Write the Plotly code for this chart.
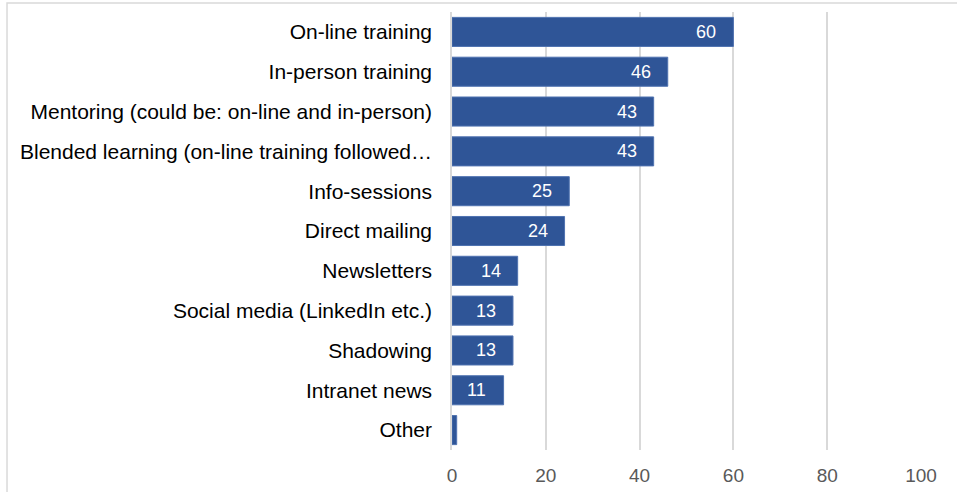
import plotly.graph_objects as go

categories = [
    "On-line training",
    "In-person training",
    "Mentoring (could be: on-line and in-person)",
    "Blended learning (on-line training followed…",
    "Info-sessions",
    "Direct mailing",
    "Newsletters",
    "Social media (LinkedIn etc.)",
    "Shadowing",
    "Intranet news",
    "Other",
]
values = [60, 46, 43, 43, 25, 24, 14, 13, 13, 11, 1]
x_ticks = [0, 20, 40, 60, 80, 100]

BAR = "#2F5597"
FONT = "Liberation Sans, Arial, sans-serif"

fig = go.Figure(
    go.Bar(
        x=values,
        y=categories,
        orientation="h",
        marker=dict(color=BAR, line=dict(color="#4F72B0", width=1)),
        width=0.73,
        hoverinfo="x+y",
    )
)

# value labels inside the bar ends (skipped for bars too short to hold them)
for cat, v in zip(categories, values):
    if v >= 5:
        fig.add_annotation(
            x=v, y=cat, text=str(v), showarrow=False,
            xanchor="center", xshift=-27,
            font=dict(family=FONT, size=18, color="white"),
        )

# outer chart frame
fig.add_shape(
    type="rect", xref="paper", yref="paper",
    x0=-0.9488, x1=1.2, y0=-0.2, y1=1.0205,
    line=dict(color="#D9D9D9", width=1.5), fillcolor="rgba(0,0,0,0)",
    layer="below",
)

fig.update_layout(
    width=957, height=492,
    margin=dict(l=452, r=36, t=12, b=42, autoexpand=False),
    paper_bgcolor="white", plot_bgcolor="white",
    showlegend=False,
    xaxis=dict(
        range=[0, 100], tickvals=x_ticks, showgrid=True,
        gridcolor="#D9D9D9", gridwidth=1.5,
        zeroline=False, showline=False, automargin=False,
        ticks="", ticklabelstandoff=12,
        tickfont=dict(family=FONT, size=19, color="#595959"),
    ),
    yaxis=dict(
        range=[len(categories) - 0.5, -0.5],
        showgrid=False, zeroline=False, automargin=False,
        showline=True, linecolor="#D9D9D9", linewidth=1.5,
        ticks="", ticklabelstandoff=14,
        tickfont=dict(family=FONT, size=21, color="#000000"),
    ),
)

fig.write_html("out.html")
